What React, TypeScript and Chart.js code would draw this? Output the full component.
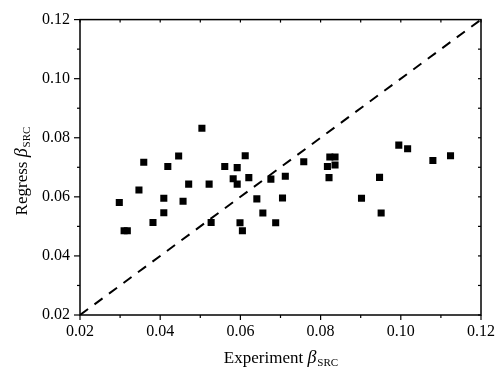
import React, { useEffect, useRef } from 'react';
import { Chart, registerables } from 'chart.js';

Chart.register(...registerables);

// ---- Data ----
const experimentBeta = [
  0.0504, 0.0446, 0.0359, 0.0419, 0.0471, 0.0522, 0.0347, 0.0298, 0.0409, 0.0457,
  0.0409, 0.0382, 0.0310, 0.0318, 0.0527, 0.0612, 0.0561, 0.0592, 0.0582, 0.0592,
  0.0621, 0.0676, 0.0712, 0.0758, 0.0823, 0.0836, 0.0817, 0.0836, 0.0821, 0.0641,
  0.0705, 0.0656, 0.0599, 0.0688, 0.0605, 0.0995, 0.1017, 0.1080, 0.1124, 0.0947,
  0.0902, 0.0951,
];
const regressBeta = [
  0.0832, 0.0738, 0.0717, 0.0703, 0.0643, 0.0643, 0.0623, 0.0581, 0.0595, 0.0585,
  0.0546, 0.0513, 0.0485, 0.0485, 0.0513, 0.0739, 0.0703, 0.0699, 0.0661, 0.0643,
  0.0665, 0.0660, 0.0670, 0.0719, 0.0735, 0.0735, 0.0703, 0.0708, 0.0665, 0.0593,
  0.0596, 0.0545, 0.0512, 0.0512, 0.0485, 0.0775, 0.0763, 0.0723, 0.0739, 0.0666,
  0.0595, 0.0545,
];
const diagonalX = [0.02, 0.12];
const diagonalY = [0.02, 0.12];
const tickLabels = ['0.02', '0.04', '0.06', '0.08', '0.10', '0.12'];
const axisMin = 0.02;
const axisMax = 0.12;
const xTitleText = 'Experiment';
const yTitleText = 'Regress';
const titleSymbol = '\u03B2';
const titleSubscript = 'SRC';

const SERIF = '"Liberation Serif", "Times New Roman", serif';

function drawTitle(ctx: CanvasRenderingContext2D, cx: number, baseline: number, text: string) {
  const mainFont = `17px ${SERIF}`;
  const betaFont = `italic 18px ${SERIF}`;
  const subFont = `11px ${SERIF}`;
  ctx.font = mainFont;
  const w1 = ctx.measureText(text + ' ').width;
  ctx.font = betaFont;
  const w2 = ctx.measureText(titleSymbol).width;
  ctx.font = subFont;
  const w3 = ctx.measureText(titleSubscript).width;
  const total = w1 + w2 + 1 + w3;
  let x = cx - total / 2;
  ctx.fillStyle = '#000';
  ctx.textAlign = 'left';
  ctx.textBaseline = 'alphabetic';
  ctx.font = mainFont;
  ctx.fillText(text + ' ', x, baseline);
  x += w1;
  ctx.font = betaFont;
  ctx.fillText(titleSymbol, x, baseline);
  x += w2 + 1;
  ctx.font = subFont;
  ctx.fillText(titleSubscript, x, baseline + 3);
}

const framePlugin = {
  id: 'frameTicks',
  afterDatasetsDraw(chart: any) {
    const { ctx, chartArea, scales } = chart;
    const { left, right, top, bottom } = chartArea;
    const xs = scales.x;
    const ys = scales.y;
    ctx.save();
    ctx.strokeStyle = '#000';
    ctx.lineWidth = 1.5;
    ctx.strokeRect(left, top, right - left, bottom - top);
    ctx.lineWidth = 1.2;
    const seg = (x1: number, y1: number, x2: number, y2: number) => {
      ctx.beginPath();
      ctx.moveTo(x1, y1);
      ctx.lineTo(x2, y2);
      ctx.stroke();
    };
    for (let i = 2; i <= 12; i++) {
      const v = i / 100;
      const major = i % 2 === 0;
      const px = xs.getPixelForValue(v);
      const py = ys.getPixelForValue(v);
      seg(px, bottom, px, bottom + (major ? 5 : 3));
      seg(left - (major ? 6 : 3), py, left, py);
      seg(px, top, px, top + 3);
      seg(right - 3, py, right, py);
    }
    ctx.restore();
  },
  afterDraw(chart: any) {
    const { ctx } = chart;
    ctx.save();
    drawTitle(ctx, 281, 363, xTitleText);
    ctx.translate(27, 171);
    ctx.rotate(-Math.PI / 2);
    drawTitle(ctx, 0, 0, yTitleText);
    ctx.restore();
  },
};

const tickCallback = (value: any) => {
  const label = tickLabels.find((t) => Math.abs(parseFloat(t) - Number(value)) < 1e-9);
  return label ?? '';
};

export default function App() {
  const canvasRef = useRef<HTMLCanvasElement | null>(null);

  useEffect(() => {
    if (!canvasRef.current) return;
    const points = experimentBeta.map((x, i) => ({ x, y: regressBeta[i] }));
    const diag = diagonalX.map((x, i) => ({ x, y: diagonalY[i] }));
    const tickFont = { family: SERIF, size: 16 };
    const chart = new Chart(canvasRef.current, {
      type: 'scatter',
      data: {
        datasets: [
          {
            type: 'line',
            data: diag,
            borderColor: '#000',
            borderWidth: 2,
            borderDash: [10, 8],
            pointRadius: 0,
            fill: false,
            showLine: true,
          } as any,
          {
            data: points,
            pointStyle: 'rect',
            pointRadius: 5,
            pointHoverRadius: 5,
            backgroundColor: '#000',
            borderColor: '#000',
            borderWidth: 0,
          },
        ],
      },
      options: {
        responsive: false,
        animation: false,
        devicePixelRatio: 1,
        layout: { padding: { left: 0, top: 14, right: 21, bottom: 0 } },
        plugins: { legend: { display: false }, tooltip: { enabled: false }, title: { display: false } },
        scales: {
          x: {
            type: 'linear',
            min: axisMin,
            max: axisMax,
            grid: { display: false, drawTicks: false },
            border: { display: false },
            ticks: { stepSize: 0.02, callback: tickCallback, font: tickFont, color: '#000', padding: 7, maxRotation: 0 },
            afterFit: (s: any) => { s.height = 63; },
          },
          y: {
            type: 'linear',
            min: axisMin,
            max: axisMax,
            grid: { display: false, drawTicks: false },
            border: { display: false },
            ticks: { stepSize: 0.02, callback: tickCallback, font: tickFont, color: '#000', padding: 10 },
            afterFit: (s: any) => { s.width = 80; },
          },
        },
      },
      plugins: [framePlugin],
    });
    return () => chart.destroy();
  }, []);

  return (
    <div style={{ position: 'fixed', left: 0, top: 0, width: 502, height: 378, background: '#fff' }}>
      <canvas ref={canvasRef} width={502} height={378} style={{ display: 'block' }} />
    </div>
  );
}
